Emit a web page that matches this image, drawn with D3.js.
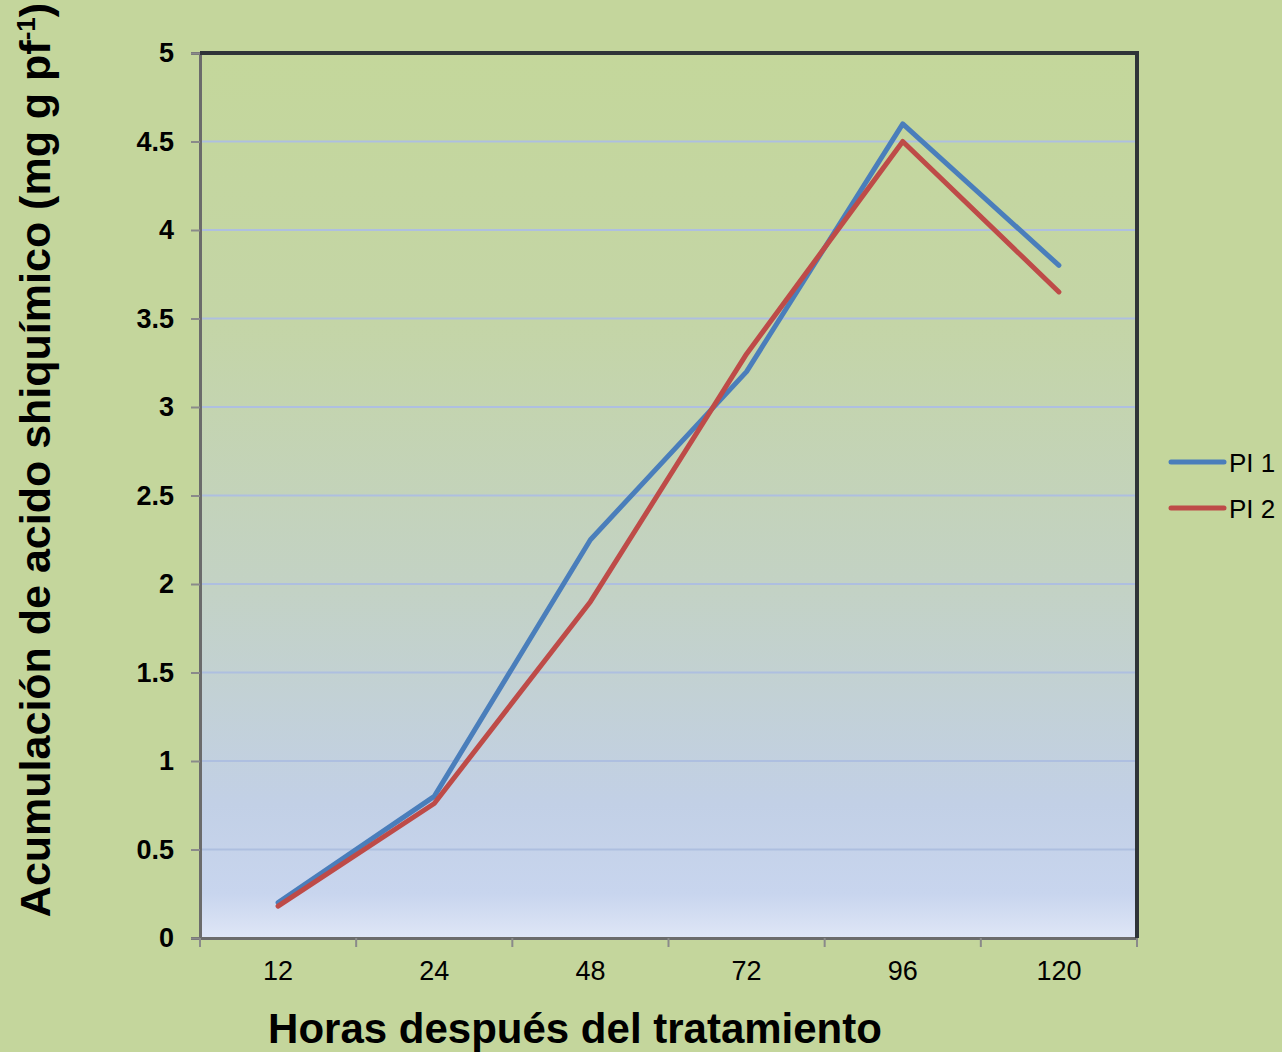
<!DOCTYPE html>
<html>
<head>
<meta charset="utf-8">
<script src="https://cdn.jsdelivr.net/npm/d3@7"></script>
<style>
  html, body { margin: 0; padding: 0; background: #c4d69c; }
  svg { display: block; font-family: "Liberation Sans", Arial, sans-serif; }
</style>
</head>
<body>
<svg id="chart" width="1282" height="1052"></svg>
<script>
// Hours after treatment (categories) and shikimic acid accumulation per series
const hours = ["12", "24", "48", "72", "96", "120"];
const pi1 = [0.2, 0.8, 2.25, 3.2, 4.6, 3.8];
const pi2 = [0.18, 0.76, 1.9, 3.3, 4.5, 3.65];
const seriesNames = ["PI 1", "PI 2"];
const yTicks = [0, 0.5, 1, 1.5, 2, 2.5, 3, 3.5, 4, 4.5, 5];

const svg = d3.select("#chart");
const W = 1282, H = 1052;
const plot = { left: 200, top: 53, right: 1137, bottom: 938 };

svg.append("rect").attr("width", W).attr("height", H).attr("fill", "#c4d69c");

// Vertical gradient for the plot area: green at top fading to pale blue
const defs = svg.append("defs");
const grad = defs.append("linearGradient").attr("id", "plotFill")
  .attr("x1", 0).attr("y1", 0).attr("x2", 0).attr("y2", 1);
[[0, "#c4d79b"], [0.3, "#c4d5a6"], [0.6, "#c3d2c4"], [0.85, "#c2d0e6"], [0.95, "#c8d5ee"], [1, "#dfe6f6"]]
  .forEach(([o, c]) => grad.append("stop").attr("offset", o).attr("stop-color", c));

const x = d3.scaleBand().domain(hours).range([plot.left, plot.right]).padding(0);
const y = d3.scaleLinear().domain([0, 5]).range([plot.bottom, plot.top]);

svg.append("rect")
  .attr("x", plot.left).attr("y", plot.top)
  .attr("width", plot.right - plot.left).attr("height", plot.bottom - plot.top)
  .attr("fill", "url(#plotFill)");

// Horizontal gridlines
svg.append("g").selectAll("line")
  .data(yTicks.filter(t => t > 0 && t < 5))
  .join("line")
  .attr("x1", plot.left).attr("x2", plot.right)
  .attr("y1", d => y(d)).attr("y2", d => y(d))
  .attr("stroke", "#aebfe0").attr("stroke-width", 2);

// Y axis
const yAxis = svg.append("g").attr("transform", `translate(${plot.left},0)`)
  .call(d3.axisLeft(y).tickValues(yTicks).tickSize(9).tickPadding(17)
    .tickFormat(d3.format("")));
yAxis.select(".domain").attr("stroke", "#6b6b6b").attr("stroke-width", 3);
yAxis.selectAll(".tick line").attr("stroke", "#8a8a8a").attr("stroke-width", 2);
yAxis.selectAll(".tick text")
  .attr("font-size", 27).attr("font-weight", "bold").attr("fill", "#000")
  .attr("font-family", "'Liberation Sans', Arial, sans-serif");

// X axis with ticks at category boundaries
const xAxis = svg.append("g").attr("transform", `translate(0,${plot.bottom})`)
  .call(d3.axisBottom(x).tickSize(0).tickPadding(23));
xAxis.select(".domain").attr("stroke", "#6b6b6b").attr("stroke-width", 3);
xAxis.selectAll(".tick text")
  .attr("font-size", 27).attr("fill", "#000")
  .attr("font-family", "'Liberation Sans', Arial, sans-serif");
const boundaries = hours.map(h => x(h)).concat([plot.right]);
svg.append("g").selectAll("line").data(boundaries).join("line")
  .attr("x1", d => d).attr("x2", d => d)
  .attr("y1", plot.bottom).attr("y2", plot.bottom + 9)
  .attr("stroke", "#8a8a8a").attr("stroke-width", 2);

// Dark top and right frame
svg.append("path")
  .attr("d", `M${plot.left},${plot.top}H${plot.right}V${plot.bottom}`)
  .attr("fill", "none").attr("stroke", "#2f3438").attr("stroke-width", 4);

// Series lines
const line = d3.line()
  .x((d, i) => x(hours[i]) + x.bandwidth() / 2)
  .y(d => y(d));
const colors = ["#4a7ebb", "#be4b48"];
[pi1, pi2].forEach((vals, i) => {
  svg.append("path").datum(vals)
    .attr("d", line)
    .attr("fill", "none").attr("stroke", colors[i])
    .attr("stroke-width", 5)
    .attr("stroke-linejoin", "round").attr("stroke-linecap", "round");
});

// Legend
const legend = svg.append("g");
seriesNames.forEach((name, i) => {
  const ly = 462 + i * 46;
  legend.append("line")
    .attr("x1", 1171).attr("x2", 1224).attr("y1", ly).attr("y2", ly)
    .attr("stroke", colors[i]).attr("stroke-width", 5).attr("stroke-linecap", "round");
  legend.append("text").attr("x", 1229).attr("y", ly + 10)
    .attr("font-size", 26).attr("fill", "#000").text(name);
});

// Axis titles
svg.append("text")
  .attr("x", 575).attr("y", 1043)
  .attr("text-anchor", "middle")
  .attr("font-size", 42).attr("font-weight", "bold").attr("fill", "#000")
  .text("Horas después del tratamiento");

const yt = svg.append("text")
  .attr("transform", "translate(50,460) rotate(-90)")
  .attr("text-anchor", "middle")
  .attr("font-size", 43).attr("font-weight", "bold").attr("fill", "#000");
yt.append("tspan").text("Acumulación  de acido shiquímico (mg g pf");
yt.append("tspan").attr("dy", -15).attr("font-size", 26).text("-1");
yt.append("tspan").attr("dy", 15).text(")");
</script>
</body>
</html>
